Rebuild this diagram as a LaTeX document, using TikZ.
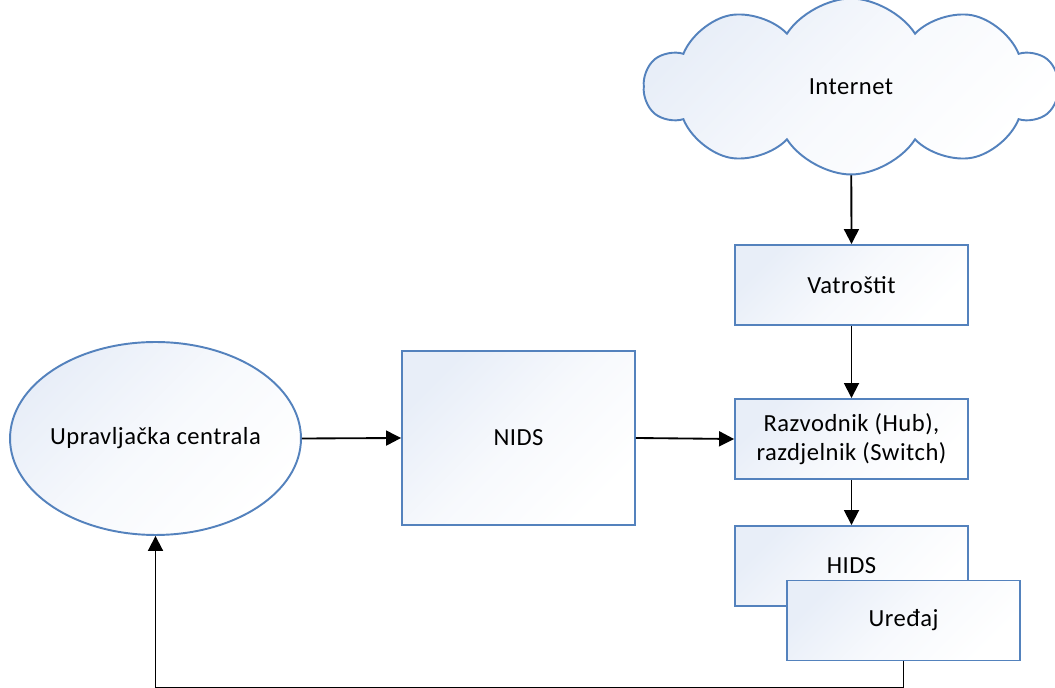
\documentclass[tikz,border=0pt]{standalone}
\usepackage{fontspec}
\setmainfont[LetterSpace=2]{Carlito}
\usetikzlibrary{arrows.meta,shapes.geometric,shapes.symbols,backgrounds}
\definecolor{rubplava}{RGB}{84,130,189}
\definecolor{ispuna}{RGB}{232,238,248}
\tikzset{
  oblik/.style={draw=rubplava, line width=1.1pt, top color=ispuna, bottom color=white, middle color=white!65!ispuna, shading angle=45, inner sep=0pt, align=center, font=\fontsize{14}{16.5}\selectfont},
  blok/.style={oblik, rectangle, minimum width=4.66cm, minimum height=1.6cm},
  centrala/.style={oblik, ellipse, inner xsep=-5pt, minimum width=5.82cm, minimum height=3.86cm},
  oblak/.style={oblik, cloud, cloud puffs=10, cloud puff arc=115, cloud ignores aspect, minimum width=8.26cm, minimum height=3.52cm},
  veza/.style={line width=1.05pt, -{Triangle[length=0.3cm, width=0.3cm]}}
}

\begin{document}
\begin{tikzpicture}[x=0.02cm, y=-0.02cm]
			%%%%% START %%%%%
			\useasboundingbox (0,0) rectangle (1055,688);
			
			\node[oblak] (internet) at (851,86.5) {Internet};
			\node[blok] (vatrostit) at (851.5,285) {Vatroštit};
			\node[blok] (razvodnik) at (851.5,439) {Razvodnik (Hub),\\razdjelnik (Switch)};
			\node[blok] (hids) at (851.5,566) {HIDS};
			\node[blok] (uredaj) at (903.5,620.5) {Uređaj};
			\node[blok, minimum height=3.48cm] (nids) at (518.5,438) {NIDS};
			\node[centrala] (upravljacka) at (155.5,438.5) {Upravljačka centrala};
			
			% strelica ispod oblaka
			\begin{pgfonlayer}{background}
			\draw[veza] (internet.center) -- (vatrostit.north);
			\end{pgfonlayer}
			\draw[veza] (vatrostit.south) -- (razvodnik.north);
			\draw[veza] (razvodnik.south) -- (hids.north);
			\draw[veza] (upravljacka.east) -- (nids.west);
			\draw[veza] (nids.east) -- (razvodnik.west);
			\draw[veza] (uredaj.south) -- ++(0,26) -| (upravljacka.south);
			
			%%%%% END %%%%%
\end{tikzpicture}
\end{document}
